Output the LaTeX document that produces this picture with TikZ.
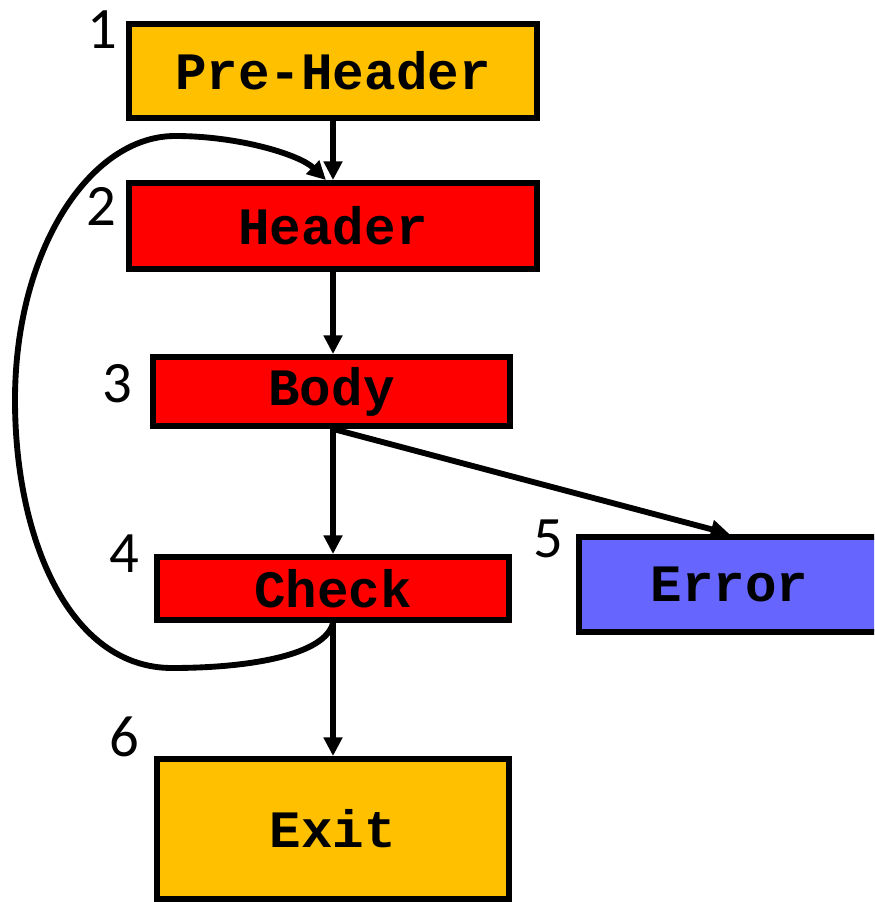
\documentclass[tikz,border=0pt]{standalone}
\usepackage{fontspec}
\setmainfont{Carlito}
\newfontfamily\monofont{Liberation Mono}
\usetikzlibrary{arrows.meta,calc}
\definecolor{boxorange}{HTML}{FFC000}
\definecolor{boxred}{HTML}{FF0000}
\definecolor{boxblue}{HTML}{6666FF}
\begin{document}
\begin{tikzpicture}[x=0.75pt,y=-0.75pt,
  blk/.style={draw=black,line width=4.4pt,inner sep=0pt,
    font=\monofont\bfseries\fontsize{39.4}{44}\selectfont},
  num/.style={inner sep=0pt,font=\fontsize{44}{50}\selectfont},
  conn/.style={line width=4.4pt,-{Triangle[length=14pt,width=13.5pt]}}]
\clip (0,0) rectangle (874,902);
\node[blk,fill=boxorange,minimum width=408*0.75pt,minimum height=94*0.75pt] (pre) at (333,71) {Pre-Header};
\node[blk,fill=boxred,minimum width=408*0.75pt,minimum height=86*0.75pt] (header) at (333,226) {Header};
\node[blk,fill=boxred,minimum width=357*0.75pt,minimum height=69*0.75pt] (body) at (331.5,391.5) {Body};
\node[blk,fill=boxred,minimum width=352*0.75pt,minimum height=63*0.75pt] (check) at (333,588.5) {Check};
\node[blk,fill=boxblue,minimum width=301*0.75pt,minimum height=95*0.75pt] (error) at (729.5,584.5) {Error};
\node[blk,fill=boxorange,minimum width=352*0.75pt,minimum height=140*0.75pt] (exit) at (333,829) {Exit};
\node[num] (n1) at (102,30) {1};
\node[num] (n2) at (101,206) {2};
\node[num] (n3) at (117,384) {3};
\node[num] (n4) at (124,554) {4};
\node[num] (n5) at (548,539) {5};
\node[num] (n6) at (124,737) {6};
\coordinate (loopend) at ($(header.north)+(-7,0)$);
\coordinate (bodytop) at (header.south |- body.north);
\coordinate (bodybot) at (header.south |- body.south);
\draw[conn] (pre.south) -- (header.north);
\draw[conn] (header.south) -- (bodytop);
\draw[conn] (bodybot) -- (check.north);
\draw[conn] (bodybot) -- (error.north);
\draw[conn] (check.south) -- (exit.north);
\draw[conn] (check.south) .. controls (325,655) and (250,668) .. (172,668)
  .. controls (70,668) and (15,540) .. (15,400)
  .. controls (15,250) and (90,136) .. (175,136)
  .. controls (240,136) and (300,155) .. (loopend);
\end{tikzpicture}
\end{document}
